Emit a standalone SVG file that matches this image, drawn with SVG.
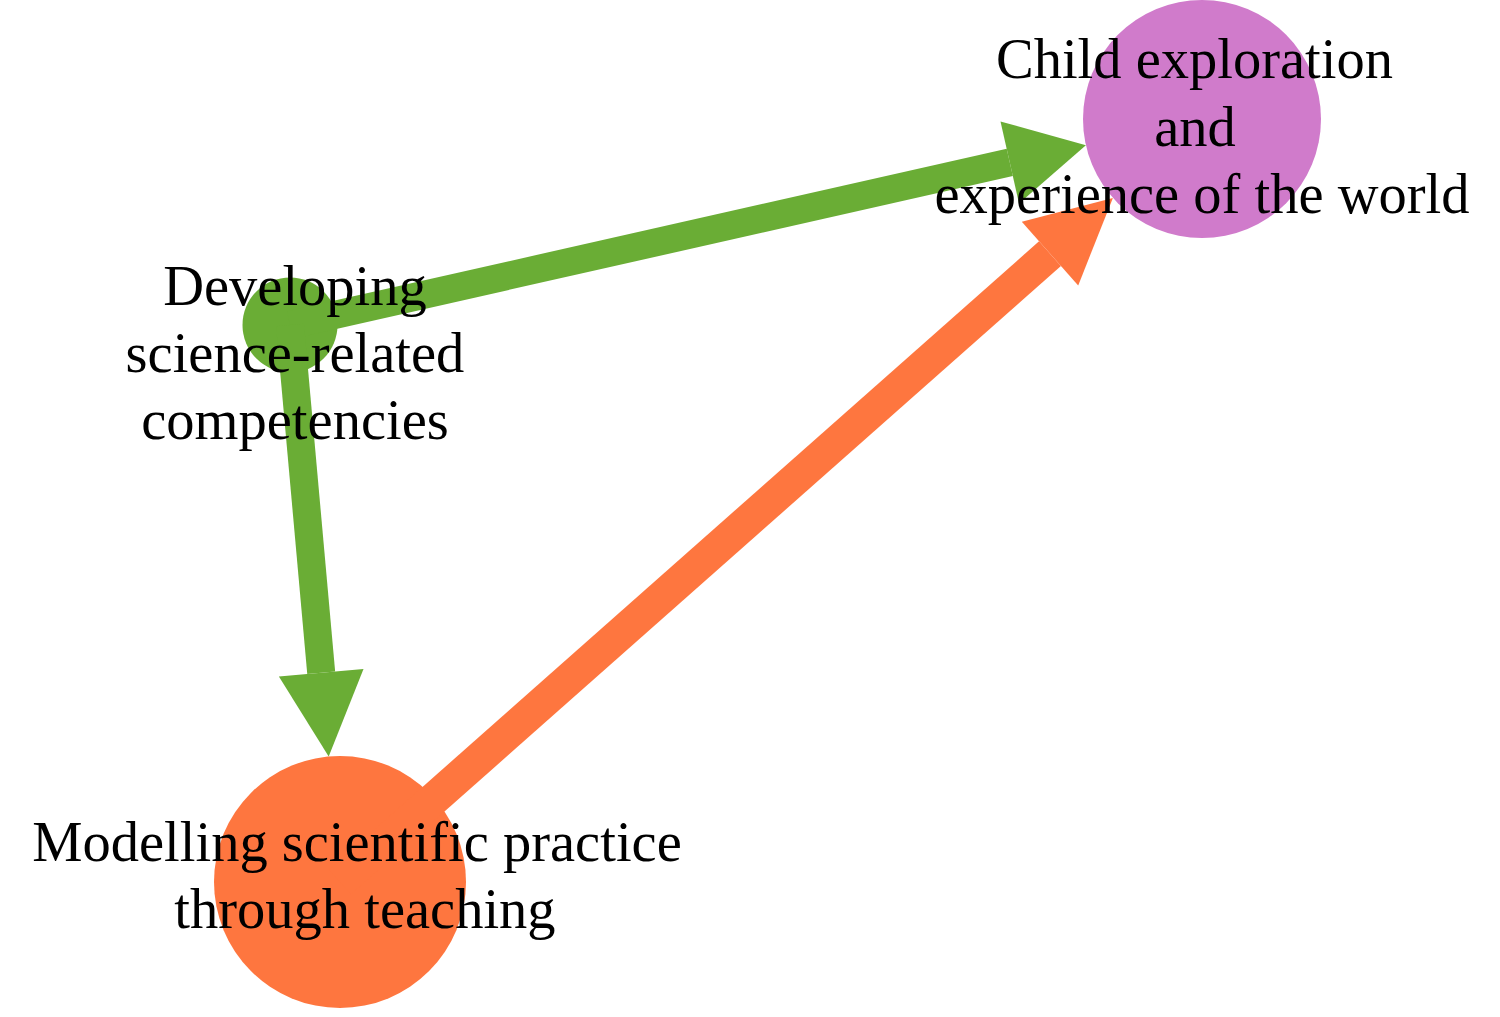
<svg xmlns="http://www.w3.org/2000/svg" width="1500" height="1017" viewBox="0 0 1500 1017">
<style>
.lbl{font-family:"Liberation Serif","Times New Roman",serif;font-size:56.5px;fill:#000;text-anchor:middle}
.g{stroke:#6aad35;fill:none;stroke-width:28}
.o{stroke:#fe763f;fill:none;stroke-width:33}
</style>
<rect width="1500" height="1017" fill="#fff"/>
<g id="nodes-shapes">
<circle id="n-child-shape" cx="1202" cy="119" r="119" fill="#d07bcb"/>
<circle id="n-dev-shape" cx="290" cy="325" r="47.5" fill="#6aad35"/>
<circle id="n-model-shape" cx="340" cy="882" r="126" fill="#fe763f"/>
</g>
<g id="connectors">
<line class="g" x1="290" y1="325" x2="1009.8" y2="162.4"/>
<polygon fill="#6aad35" points="1085.9,145.2 1019,203.4 1000.5,121.4"/>
<line class="g" x1="290" y1="325" x2="321.2" y2="672.8"/>
<polygon fill="#6aad35" points="328.7,756.5 363.5,669 278.9,676.6"/>
<line class="o" x1="340" y1="882" x2="1050" y2="253.6"/>
<polygon fill="#fe763f" points="1112.9,197.9 1078.2,285.4 1021.8,221.8"/>
</g>
<g id="node-child">
<text class="lbl" x="1194.5" y="78">Child exploration</text>
<text class="lbl" x="1195" y="146">and</text>
<text class="lbl" x="1202" y="213">experience of the world</text>
</g>
<g id="node-dev">
<text class="lbl" x="295" y="305">Developing</text>
<text class="lbl" x="295" y="372">science-related</text>
<text class="lbl" x="295" y="439">competencies</text>
</g>
<g id="node-model">
<text class="lbl" x="357" y="861">Modelling scientific practice</text>
<text class="lbl" x="365" y="928">through teaching</text>
</g>
</svg>
